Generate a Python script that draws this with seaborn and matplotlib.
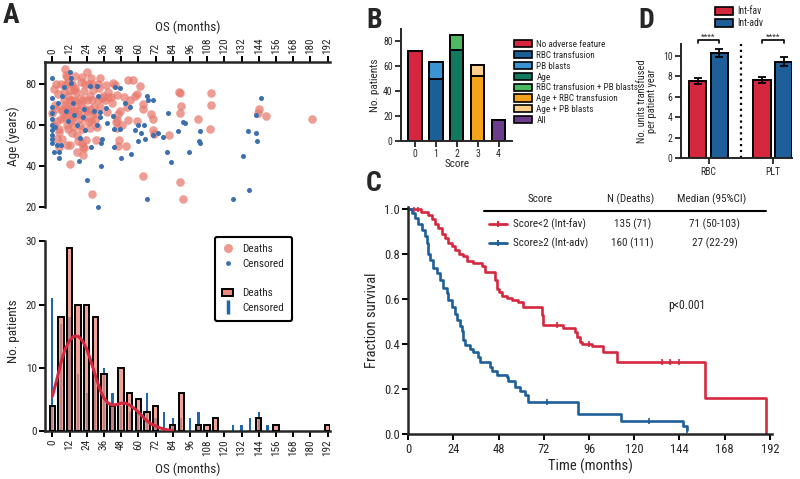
import numpy as np
import pandas as pd
import matplotlib
matplotlib.use('Agg')
import matplotlib.pyplot as plt
import seaborn as sns
from matplotlib import font_manager
from matplotlib.colors import to_rgba
from matplotlib.lines import Line2D
from matplotlib.patches import Patch

# ---------------- data ----------------
# A (top): OS vs age, deaths and censored patients
death_os = [0, 2, 1, 2.5, 3, 5, 5, 6, 6.5, 8, 8, 9, 9, 9.5, 10, 10, 11, 11, 12, 11, 12, 13, 13.5, 14, 15, 15,
            16, 16, 16.5, 17, 17.7, 18.8, 19, 19.8, 20.5, 21.6, 22, 22.8, 24, 24.5, 25, 25.8, 26.3, 26.7, 27.4,
            28, 28.6, 29, 29.8, 30.4, 31, 31.6, 32, 32.8, 33, 12.5, 17.4, 18, 20.5, 21.6, 22.3, 23.5, 26.3, 28,
            33, 34.4, 35.6, 36.7, 37.5, 38, 39, 39, 41, 41.4, 42.5, 43.7, 45, 44.4, 45, 45.3, 45.6, 46, 46.7,
            47, 48.4, 50, 51.4, 51.8, 53, 54, 53, 56, 58, 58.8, 59.3, 61, 63.4, 63.4, 63.4, 69, 70, 70, 71,
            81.5, 88.3, 89, 89, 89, 89.7, 91, 101.8, 110, 111, 111, 143.2, 144.4, 149, 180.8, 21.6,
            3, 4, 6, 7, 8, 9, 10, 12, 13, 14, 15, 16, 18, 19, 20, 22, 23, 24, 26, 27, 28, 30, 1, 2, 5, 11, 14,
            17, 21, 7, 10, 12]
death_age = [66, 70, 77.4, 80, 53, 49, 56.7, 63, 67, 72, 76, 79.5, 87.6, 84.4, 65, 83.6, 81, 74, 77, 69, 66.5,
             62, 80, 72, 67, 59, 84, 78, 76, 70, 65.5, 63, 73, 81, 83.6, 72, 76.7, 68, 86, 67, 61.6, 80, 74,
             82.8, 65, 72, 77, 69, 62.4, 52.6, 59, 72, 80, 78, 83, 41, 47, 52, 51, 49, 48.5, 52.6, 58.3, 26,
             69, 73, 74, 72, 79.5, 66.5, 76, 73.5, 73.5, 70.5, 80.6, 79.5, 74.6, 61.6, 58.3, 62.4, 65.6, 49.8,
             52.6, 67, 60, 73.5, 49.8, 69, 82, 72, 62.4, 82, 74, 62, 75, 79, 70.2, 67.6, 35, 65.6, 62.7, 57.5,
             55.8, 55, 76.3, 75.4, 66, 32, 69.4, 23.7, 62.7, 57.8, 75.8, 69.7, 66, 67.6, 64.3, 62.9, 45.3,
             62, 75, 80, 68, 64, 70, 60, 72, 68, 63, 77, 72, 67, 60, 70, 64, 80, 72, 68, 62, 80, 66, 60, 68, 58,
             58, 56, 55, 58, 53, 50, 50]
cens_os = [0, 0, 0, 0, 0, 0, 0, 0, 0, 0, 1, 2, 3, 5, 5, 6, 4, 6.5, 8, 9.5, 11, 12, 13, 13, 14.5, 15, 17, 18.5,
           19, 21.6, 22, 23, 24.5, 26, 27, 29, 31, 31.5, 32, 33, 33, 34, 34.5, 34, 32, 37.5, 38, 42, 43, 43, 44,
           47, 47, 48, 50.5, 54, 55, 58, 60, 59.5, 62, 64, 64.6, 66, 66.5, 66, 70.5, 70.5, 74, 77.4, 80, 80.8,
           82.5, 88, 91.3, 92.5, 95.5, 102.5, 103, 103, 126, 133, 136.7, 137.4, 141.8, 142, 142.5, 145.5]
cens_age = [83, 73, 69, 66, 63, 60, 57.5, 55, 53, 51, 47, 59, 50, 47, 44, 50, 70.5, 74, 78.4, 67, 62, 86, 83,
            80.5, 70.5, 65, 60, 42.5, 53.5, 64, 68, 57.5, 33, 79, 49, 67, 60, 79, 74, 66.5, 64, 40, 53, 51, 20,
            68.5, 61, 64.5, 58, 49, 78.4, 78, 58, 44, 70.5, 69, 46, 57.5, 60, 52, 56, 60, 53, 74, 72, 24, 72, 55,
            56, 54, 47, 66, 42, 57, 61.6, 61, 47, 52, 51, 57, 24, 45, 57, 28, 65, 56, 52, 73]

# A (bottom): patients per 6-month OS bin
hist_os = list(range(0, 193, 6))
death_n = [4, 18, 29, 20, 20, 18, 9, 4, 10, 6, 5, 3, 4, 0, 1, 6, 0, 1, 1, 2, 0, 0, 0, 0, 2, 0, 1, 0, 0, 0, 0, 0, 1]
cens_n = [21, 17, 18, 9, 6, 8, 10, 6, 4, 3, 3, 6, 2, 3, 2, 2, 2, 3, 0, 0, 0, 1, 1, 2, 3, 1, 0, 0, 0, 0, 0, 0, 0]
curve_os = list(range(0, 85, 3))
curve_n = [5.5, 8.0, 10.8, 13.0, 14.3, 15.0, 15.0, 14.3, 13.0, 11.0, 8.8, 6.7, 5.2, 4.4, 4.1, 4.2, 4.4, 4.4,
           4.1, 3.6, 3.0, 2.3, 1.6, 1.1, 0.8, 0.5, 0.3, 0.15, 0.05]

# B: patients per score, stacked by adverse feature
b_scores = ['0', '1', '2', '3', '4']
b_lower = [72, 50, 73, 52, 17]
b_upper = [0, 13, 12, 9, 0]
b_lower_grp = ['No adverse feature', 'RBC transfusion', 'Age', 'Age + RBC transfusion', 'All']
b_upper_grp = ['No adverse feature', 'PB blasts', 'RBC transfusion + PB blasts', 'Age + PB blasts', 'All']
b_legend = ['No adverse feature', 'RBC transfusion', 'PB blasts', 'Age', 'RBC transfusion + PB blasts',
            'Age + RBC transfusion', 'Age + PB blasts', 'All']
b_colors = ['#d6263f', '#1a5f96', '#3a93d3', '#117a5e', '#4db862', '#f6a31c', '#fdd08a', '#6e3c8c']

# C: Kaplan-Meier steps
fav_t = [0, 6.5, 10.6, 12.4, 14.2, 15.9, 17.7, 19.5, 21.2, 23.0, 25.0, 27.0, 29.0, 31.0, 34.5, 38.9, 40.7,
         46.0, 46.9, 48.0, 49.5, 52.2, 54.9, 58.4, 61.0, 70.8, 71.7, 82.3, 88.5, 89.4, 91.2, 92.0, 97.5,
         103.5, 110.6, 157.5, 190.2]
fav_s = [1.0, 0.988, 0.973, 0.955, 0.935, 0.915, 0.89, 0.87, 0.85, 0.835, 0.82, 0.80, 0.79, 0.77, 0.76, 0.745,
         0.722, 0.685, 0.645, 0.63, 0.615, 0.603, 0.595, 0.585, 0.567, 0.53, 0.485, 0.47, 0.455, 0.43, 0.41,
         0.40, 0.39, 0.365, 0.32, 0.16, 0.0]
adv_t = [0, 1.8, 3.5, 5.3, 7.1, 8.8, 9.7, 10.6, 11.5, 13.3, 15.0, 16.8, 18.6, 20.4, 21.2, 23.0, 24.8, 25.7,
         27.4, 28.3, 29.2, 30.1, 32.7, 34.5, 37.2, 38.0, 43.4, 44.2, 46.9, 52.2, 53.1, 56.6, 59.3, 61.9, 63.7,
         90.3, 112.9, 146.0, 147.8, 148.1]
adv_s = [1.0, 0.98, 0.96, 0.935, 0.905, 0.88, 0.85, 0.80, 0.775, 0.74, 0.715, 0.685, 0.65, 0.625, 0.595, 0.565,
         0.535, 0.505, 0.48, 0.46, 0.42, 0.395, 0.38, 0.365, 0.345, 0.32, 0.30, 0.28, 0.263, 0.255, 0.235, 0.212,
         0.19, 0.175, 0.145, 0.09, 0.06, 0.035, 0.02, 0.02]
fav_cens = [3, 5, 79, 96, 134.5, 139, 144]
adv_cens = [73.4, 128, 148.1]

# D: transfusion burden
d_product = ['RBC', 'RBC', 'PLT', 'PLT']
d_group = ['Int-fav', 'Int-adv', 'Int-fav', 'Int-adv']
d_mean = [7.53, 10.27, 7.6, 9.4]
d_err = [0.3, 0.38, 0.28, 0.42]

# ---------------- style ----------------
sns.set_style('ticks')
names = {f.name for f in font_manager.fontManager.ttflist}
fam = 'Liberation Sans'
for cand in ['Liberation Sans Narrow', 'Roboto Condensed', 'Open Sans Condensed']:
    if cand in names:
        fam = cand
        break
plt.rcParams['font.family'] = [fam, 'DejaVu Sans']

RED_DOT = '#e8786c'
BLUE_DOT = '#3c6fae'
RED_BAR = '#ec8a7d'
BLUE_BAR = '#2166ac'
FAV = '#d5283f'
ADV = '#1f5f99'

fig = plt.figure(figsize=(8, 4.79), dpi=100)


def px(x0, y0, x1, y1):
    return [x0 / 800, 1 - y1 / 479, (x1 - x0) / 800, (y1 - y0) / 479]


def style(ax, lw=1.8, size=8):
    for s in ax.spines.values():
        s.set_linewidth(lw)
    ax.tick_params(width=lw * 0.8, length=4, color='black', labelsize=size, pad=2)


# ---- A top: scatter ----
axS = fig.add_axes(px(45, 62, 330, 210))
sns.scatterplot(x=death_os, y=death_age, s=38, color=RED_DOT, alpha=0.72, linewidth=0, ax=axS)
sns.scatterplot(x=cens_os, y=cens_age, s=13, color=BLUE_DOT, linewidth=0, ax=axS)
axS.set_xlim(-5.1, 193.7)
axS.set_ylim(18.4, 90.8)
axS.xaxis.tick_top()
axS.xaxis.set_label_position('top')
axS.set_xticks(range(0, 193, 12))
axS.set_yticks([20, 40, 60, 80])
style(axS)
axS.tick_params(axis='x', labelrotation=90)
axS.spines['bottom'].set_visible(False)
axS.spines['right'].set_visible(False)
axS.spines['left'].set_bounds(20, 90.8)
axS.set_xlabel('OS (months)', fontsize=9.5, labelpad=4)
axS.set_ylabel('Age (years)', fontsize=9.5)

# ---- A bottom: histogram ----
axH = fig.add_axes(px(45, 232, 330, 431))
cens_df = pd.DataFrame({'os': hist_os, 'n': cens_n}).query('n > 0')
death_df = pd.DataFrame({'os': hist_os, 'n': death_n}).query('n > 0')
sns.barplot(data=cens_df, x='os', y='n', native_scale=True, width=0.27, color=BLUE_BAR,
            saturation=1, linewidth=0, ax=axH)
n0 = len(axH.patches)
sns.barplot(data=death_df, x='os', y='n', native_scale=True, width=0.62, color=RED_BAR,
            saturation=1, edgecolor='black', linewidth=1.4, ax=axH)
for p in axH.patches[n0:]:
    p.set_facecolor(to_rgba(RED_BAR, 0.78))
    p.set_zorder(3)
sns.lineplot(x=curve_os, y=curve_n, color=FAV, lw=2.2, ax=axH, zorder=4)
axH.set_xlim(-5.1, 193.7)
axH.set_ylim(0, 31.5)
axH.set_xticks(range(0, 193, 12))
axH.set_xticklabels([str(v) for v in range(0, 193, 12)])
axH.set_yticks([0, 10, 20, 30])
style(axH)
axH.tick_params(axis='x', labelrotation=90)
axH.spines['top'].set_visible(False)
axH.spines['right'].set_visible(False)
axH.spines['left'].set_bounds(0, 30)
axH.set_xlabel('OS (months)', fontsize=9.5, labelpad=5)
axH.set_ylabel('No. patients', fontsize=9.5)

handles = [Line2D([], [], marker='o', ls='', color=RED_DOT, alpha=0.75, markersize=6.5, mew=0),
           Line2D([], [], marker='o', ls='', color=BLUE_DOT, markersize=3.5, mew=0),
           Line2D([], [], ls='', marker=''),
           Patch(facecolor=RED_BAR, edgecolor='black', lw=1.4),
           Line2D([], [], marker='|', ls='', color=BLUE_BAR, markersize=10, mew=2.5)]
leg = axH.legend(handles, ['Deaths', 'Censored', '', 'Deaths', 'Censored'], loc='upper left',
                 bbox_to_anchor=(209 / 800, 1 - 231 / 479), bbox_transform=fig.transFigure,
                 fontsize=8, frameon=True, fancybox=True, framealpha=1, edgecolor='black',
                 borderpad=0.7, handlelength=1.0, handletextpad=0.8, labelspacing=0.42)
leg.get_frame().set_linewidth(1.5)

# ---- B: stacked bars by score ----
axB = fig.add_axes(px(401, 29.3, 512.3, 141))
cmap_b = dict(zip(b_legend, b_colors))
b_total = [a + b for a, b in zip(b_lower, b_upper)]
sns.barplot(x=b_scores, y=b_total, hue=b_scores, dodge=False, legend=False, width=0.64, saturation=1,
            palette={s: cmap_b[g] for s, g in zip(b_scores, b_upper_grp)},
            edgecolor='black', linewidth=1.4, ax=axB)
sns.barplot(x=b_scores, y=b_lower, hue=b_scores, dodge=False, legend=False, width=0.64, saturation=1,
            palette={s: cmap_b[g] for s, g in zip(b_scores, b_lower_grp)},
            edgecolor='black', linewidth=1.4, ax=axB)
axB.set_xlim(-0.67, 4.66)
axB.set_ylim(0, 89.6)
axB.set_yticks(range(0, 81, 20))
style(axB, lw=1.4, size=7)
axB.spines['top'].set_visible(False)
axB.spines['right'].set_visible(False)
axB.set_xlabel('Score', fontsize=8, labelpad=0)
axB.set_ylabel('No. patients', fontsize=8, labelpad=2)
fig.legend([Patch(facecolor=c, edgecolor='black', lw=1.2) for c in b_colors], b_legend,
           loc='upper left', bbox_to_anchor=(514 / 800, 1 - 40 / 479), frameon=False, fontsize=6.6,
           handlelength=2.0, handleheight=0.85, labelspacing=0.2, handletextpad=0.45,
           borderpad=0, borderaxespad=0)

# ---- C: Kaplan-Meier ----
axC = fig.add_axes(px(408.3, 206.7, 771.7, 434.3))
sns.lineplot(x=fav_t, y=fav_s, drawstyle='steps-post', color=FAV, lw=1.9, ax=axC)
sns.lineplot(x=adv_t, y=adv_s, drawstyle='steps-post', color=ADV, lw=1.9, ax=axC)
fav_cs = [fav_s[np.searchsorted(fav_t, t, side='right') - 1] for t in fav_cens]
adv_cs = [adv_s[np.searchsorted(adv_t, t, side='right') - 1] for t in adv_cens]
axC.plot(fav_cens, fav_cs, ls='', marker='|', ms=4, mew=1.2, color=FAV)
axC.plot(adv_cens, adv_cs, ls='', marker='|', ms=4, mew=1.2, color=ADV)
axC.set_xlim(0, 193)
axC.set_ylim(0, 1.01)
axC.set_xticks(range(0, 193, 24))
axC.set_yticks(np.arange(0, 1.01, 0.2))
axC.set_yticklabels([f'{v:.1f}' for v in np.arange(0, 1.01, 0.2)])
style(axC, lw=1.8, size=9)
axC.spines['top'].set_visible(False)
axC.spines['right'].set_visible(False)
axC.set_xlabel('Time (months)', fontsize=10.5, labelpad=2)
axC.set_ylabel('Fraction survival', fontsize=10.5)

tk = dict(fontsize=8, ha='center', va='center', clip_on=False)
axC.text(69.9, 1.044, 'Score', **tk)
axC.text(117.9, 1.044, 'N (Deaths)', **tk)
axC.text(161.2, 1.044, 'Median (95%CI)', **tk)
axC.plot([40.2, 189.8], [0.9925, 0.9925], color='black', lw=1.5, clip_on=False)
rows = [(0.932, FAV, 'Score<2 (Int-fav)', '135 (71)', '71 (50-103)'),
        (0.848, ADV, 'Score≥2 (Int-adv)', '160 (111)', '27 (22-29)')]
for y, c, lab, n, med in rows:
    axC.plot([42.9, 52.3], [y, y], color=c, lw=2, clip_on=False)
    axC.plot([47.6], [y], marker='|', ms=4, mew=1.5, color=c, clip_on=False)
    axC.text(55.7, y, lab, fontsize=8, ha='left', va='center')
    axC.text(119, y, n, **tk)
    axC.text(162.8, y, med, **tk)
axC.text(147.8, 0.571, 'p<0.001', fontsize=8.5, ha='center', va='center')

# ---- D: transfusion bars ----
axD = fig.add_axes(px(681, 44.3, 792, 158.3))
d_df = pd.DataFrame({'product': d_product, 'group': d_group, 'units': d_mean})
sns.barplot(data=d_df, x='product', y='units', hue='group', palette={'Int-fav': FAV, 'Int-adv': ADV},
            width=0.68, gap=0.2, saturation=1, edgecolor='black', linewidth=1.4, errorbar=None,
            legend=False, ax=axD)
for p in axD.patches:
    h = p.get_height()
    cx = p.get_x() + p.get_width() / 2
    e = d_err[int(np.argmin([abs(h - m) for m in d_mean]))]
    axD.errorbar(cx, h, yerr=e, color='black', capsize=3, elinewidth=1.3, capthick=1.3)
for i in range(2):
    axD.plot([i - 0.17, i - 0.17, i + 0.17, i + 0.17], [11.2, 11.5, 11.5, 11.2], color='black', lw=1.2,
             clip_on=False)
    axD.text(i, 11.5, '****', ha='center', va='bottom', fontsize=6, clip_on=False)
axD.axvline(0.5, color='black', ls=':', lw=1.6)
axD.set_xlim(-0.43, 1.3)
axD.set_ylim(0, 11.1)
axD.set_yticks(range(0, 11, 2))
style(axD, lw=1.4, size=7)
axD.spines['top'].set_visible(False)
axD.spines['right'].set_visible(False)
axD.set_xlabel('')
axD.set_ylabel('No. units transfused\nper patient year', fontsize=7.5, linespacing=1.0)
fig.legend([Patch(facecolor=FAV, edgecolor='black', lw=1.2), Patch(facecolor=ADV, edgecolor='black', lw=1.2)],
           ['Int-fav', 'Int-adv'], loc='upper left', bbox_to_anchor=(715 / 800, 1 - 6 / 479),
           frameon=False, fontsize=7, handlelength=1.8, handleheight=0.9, labelspacing=0.2,
           handletextpad=0.5, borderpad=0, borderaxespad=0)

# ---- panel letters ----
for x, y, lab in [(3, 2, 'A'), (366, 7, 'B'), (366, 170, 'C'), (638, 7, 'D')]:
    fig.text(x / 800, 1 - y / 479, lab, fontsize=20, fontweight='bold', va='top', ha='left')

fig.savefig('out.png', dpi=100)
